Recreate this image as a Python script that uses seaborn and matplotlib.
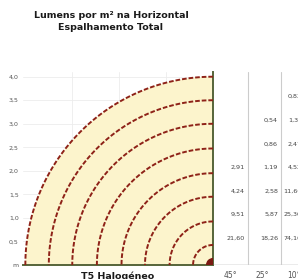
import numpy as np
import pandas as pd
import seaborn as sns
import matplotlib.pyplot as plt
from matplotlib.patches import Wedge

# isolux radii (m) and labels
radii = [0.85, 1.85, 2.9, 3.9, 4.95, 6.0, 7.0, 8.0]
y_ticks = [0, 1, 2, 3, 4, 5, 6, 7, 8]
y_labels = ['m', '0,5', '1,0', '1,5', '2,0', '2,5', '3,0', '3,5', '4,0']

# table of lux values per beam angle, rows 1..n from the bottom
col_headers = ['45°', '25°', '10°']
col_a = [21.60, 9.51, 4.24, 2.91]
col_b = [18.26, 5.87, 2.58, 1.19, 0.86, 0.54]
col_c = [74.10, 25.30, 11.60, 4.52, 2.47, 1.38, 0.83]

title = 'Lumens por m² na Horizontal\nEspalhamento Total'
lamp = 'T5 Halogéneo'

sns.set_theme(style='white')
plt.rcParams['font.family'] = ['DejaVu Sans']

W, H = 298, 279
fig = plt.figure(figsize=(W / 100, H / 100), dpi=100)
ax = fig.add_axes([23 / W, (H - 265) / H, 190 / W, 193 / H])
tab = fig.add_axes([213 / W, (H - 265) / H, 110 / W, 193 / H], sharey=ax)

# arcs
rows = []
for r in radii:
    t = np.linspace(np.pi / 2, np.pi, 120)
    rows.append(pd.DataFrame({'x': r * np.cos(t), 'y': r * np.sin(t), 'r': r}))
arcs = pd.concat(rows)

ax.add_patch(Wedge((0, 0), max(radii), 90, 180, facecolor='#fcf4cc', edgecolor='none', zorder=1))
sns.lineplot(data=arcs, x='x', y='y', units='r', estimator=None, sort=False,
             color='#8e2218', lw=1.4, ax=ax, zorder=3)
for l in ax.lines:
    l.set_dashes([2.4, 1.0])
ax.add_patch(Wedge((0, 0), 0.3, 90, 180, facecolor='#7a1a12', edgecolor='none', zorder=4))

ax.set_xlim(-8.1, 0)
ax.set_ylim(0, 8.2)
ax.set_xticks([-6, -4, -2])
ax.set_xticklabels([])
ax.set_yticks(y_ticks)
ax.set_yticklabels(y_labels, fontsize=4.5, color='#555555')
ax.tick_params(axis='y', length=0, pad=3)
ax.tick_params(axis='x', length=0)
ax.grid(True, color='#ececec', lw=0.6, zorder=0)
ax.set_axisbelow(True)
ax.set_xlabel('')
ax.set_ylabel('')
for s in ['top', 'left']:
    ax.spines[s].set_visible(False)
ax.spines['bottom'].set_color('#56653a')
ax.spines['right'].set_color('#56653a')
ax.spines['bottom'].set_linewidth(1.4)
ax.spines['right'].set_linewidth(1.4)

# table
tab.set_xlim(0, 110)
tab.axis('off')
tab.axhline(0, color='#999999', lw=1)
for xd in [35, 68]:
    tab.axvline(xd, color='#cccccc', lw=0.8)
x_right = [32, 65, 89]
for xr, col in zip(x_right, [col_a, col_b, col_c]):
    for k, v in enumerate(col, start=1):
        tab.text(xr, k + 0.15, f'{v:.2f}'.replace('.', ','), ha='right', va='center',
                 fontsize=4.6, color='#444444')

fig.text(111 / W, 1 - 21.5 / H, title, ha='center', va='center', fontsize=6.8,
         fontweight='bold', color='#1a1a1a', linespacing=1.45)
fig.text(118 / W, 1 - 276 / H, lamp, ha='center', va='center', fontsize=6.8,
         fontweight='bold', color='#1a1a1a')
for xc, h in zip([230, 262, 294], col_headers):
    fig.text(xc / W, 1 - 275 / H, h, ha='center', va='center', fontsize=5.5, color='#555555')

fig.savefig('out.png', dpi=100)
